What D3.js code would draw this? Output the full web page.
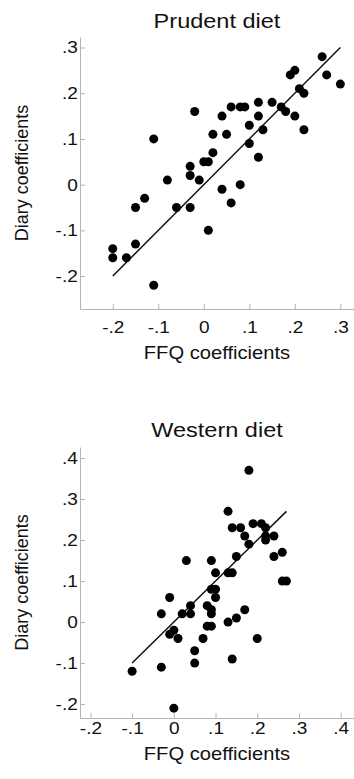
<!DOCTYPE html>
<html>
<head>
<meta charset="utf-8">
<script src="https://cdn.jsdelivr.net/npm/d3@7"></script>
<style>
  html, body { margin: 0; padding: 0; background: #fff; }
  svg { display: block; font-family: "Liberation Sans", Arial, sans-serif; }
</style>
</head>
<body>
<div id="chart"></div>
<script>
// Prudent diet panel
const prudentFFQ   = [-0.20, -0.20, -0.17, -0.15, -0.15, -0.13, -0.11, -0.11, -0.08, -0.06, -0.03, -0.03, -0.03, -0.02, -0.01, 0.00, 0.01, 0.01, 0.02, 0.02, 0.04, 0.04, 0.05, 0.06, 0.06, 0.08, 0.09, 0.08, 0.10, 0.10, 0.12, 0.12, 0.12, 0.13, 0.15, 0.17, 0.18, 0.19, 0.20, 0.20, 0.21, 0.22, 0.22, 0.26, 0.27, 0.30];
const prudentDiary = [-0.14, -0.16, -0.16, -0.13, -0.05, -0.03, 0.10, -0.22, 0.01, -0.05, 0.04, 0.02, -0.05, 0.16, 0.01, 0.05, 0.05, -0.10, 0.07, 0.11, 0.15, -0.01, 0.11, 0.17, -0.04, 0.17, 0.17, 0.00, 0.13, 0.09, 0.18, 0.15, 0.06, 0.12, 0.18, 0.17, 0.16, 0.24, 0.25, 0.15, 0.21, 0.20, 0.12, 0.28, 0.24, 0.22];
const prudentFitX  = [-0.20, 0.30];
const prudentFitY  = [-0.20, 0.30];
const prudentTicks = [-0.2, -0.1, 0, 0.1, 0.2, 0.3];

// Western diet panel
const westernFFQ   = [-0.10, -0.03, -0.03, -0.01, -0.01, 0.00, 0.01, 0.02, 0.03, 0.04, 0.04, 0.05, 0.05, 0.07, 0.08, 0.08, 0.09, 0.09, 0.09, 0.09, 0.09, 0.10, 0.10, 0.10, 0.13, 0.13, 0.13, 0.14, 0.14, 0.14, 0.15, 0.15, 0.16, 0.17, 0.17, 0.18, 0.18, 0.19, 0.20, 0.21, 0.22, 0.22, 0.22, 0.24, 0.24, 0.26, 0.26, 0.27, 0.00];
const westernDiary = [-0.12, -0.11, 0.02, 0.06, -0.03, -0.02, -0.04, 0.02, 0.15, 0.02, 0.04, -0.07, -0.10, -0.04, 0.04, -0.01, 0.03, 0.02, -0.01, 0.15, 0.08, 0.08, 0.12, 0.06, 0.00, 0.12, 0.27, 0.12, 0.23, -0.09, 0.16, 0.01, 0.23, 0.21, 0.03, 0.19, 0.37, 0.24, -0.04, 0.24, 0.23, 0.21, 0.20, 0.21, 0.16, 0.17, 0.10, 0.10, -0.21];
const westernFitX  = [-0.10, 0.27];
const westernFitY  = [-0.10, 0.27];
const westernTicks = [-0.2, -0.1, 0, 0.1, 0.2, 0.3, 0.4];

const titles = ["Prudent diet", "Western diet"];
const xTitle = "FFQ coefficients";
const yTitle = "Diary coefficients";

const W = 354, H = 779;
const stretch = 1.12; // text in the picture is slightly wide

const svg = d3.select("#chart").append("svg")
  .attr("width", W).attr("height", H);

// "-.2", "0", ".3" style labels, with a plain hyphen
const fmt = v => {
  if (Math.abs(v) < 1e-9) return "0";
  const s = Math.abs(v).toFixed(1).replace("0.", ".");
  return v < 0 ? "-" + s : s;
};

function panel(opts) {
  const x = d3.scaleLinear().domain(opts.xDom).range([80, 354]);
  const y = d3.scaleLinear().domain(opts.yDom).range([opts.bottom, opts.top]);
  const g = svg.append("g");

  // title
  g.append("text")
    .attr("transform", `translate(217,${opts.titleY}) scale(${stretch},1)`)
    .attr("text-anchor", "middle")
    .attr("font-size", 21)
    .attr("fill", "#111")
    .text(opts.title);

  // x axis
  const gx = g.append("g")
    .attr("transform", `translate(0,${opts.bottom})`)
    .call(d3.axisBottom(x).tickValues(opts.ticks).tickFormat(fmt)
      .tickSizeInner(-5).tickSizeOuter(0).tickPadding(opts.xPad));
  // y axis
  const gy = g.append("g")
    .attr("transform", "translate(80,0)")
    .call(d3.axisLeft(y).tickValues(opts.ticks).tickFormat(fmt)
      .tickSizeInner(-5).tickSizeOuter(0).tickPadding(2));

  [gx, gy].forEach(a => {
    a.select(".domain").attr("stroke", "#b4b4b4");
    a.selectAll(".tick line").attr("stroke", "#b4b4b4");
    a.selectAll(".tick text")
      .attr("font-size", 17)
      .attr("font-family", "'Liberation Sans', Arial, sans-serif")
      .attr("fill", "#111")
      .attr("transform", `scale(${stretch},1)`);
  });

  // axis titles
  g.append("text")
    .attr("transform", `translate(217,${opts.xTitleY}) scale(${stretch},1)`)
    .attr("text-anchor", "middle")
    .attr("font-size", 18)
    .attr("fill", "#111")
    .text(xTitle);

  g.append("text")
    .attr("transform", `translate(28,${(opts.top + opts.bottom) / 2}) rotate(-90)`)
    .attr("text-anchor", "middle")
    .attr("font-size", 18)
    .attr("fill", "#111")
    .text(yTitle);

  // fitted line
  g.append("line")
    .attr("x1", x(opts.fitX[0])).attr("y1", y(opts.fitY[0]))
    .attr("x2", x(opts.fitX[1])).attr("y2", y(opts.fitY[1]))
    .attr("stroke", "#111").attr("stroke-width", 1.5);

  // points
  g.selectAll("circle.pt")
    .data(opts.xs.map((v, i) => [v, opts.ys[i]]))
    .enter().append("circle")
    .attr("class", "pt")
    .attr("cx", d => x(d[0]))
    .attr("cy", d => y(d[1]))
    .attr("r", 4.5)
    .attr("fill", "#000");
}

panel({
  title: titles[0], titleY: 28,
  xDom: [-0.272, 0.33], yDom: [-0.272, 0.323],
  top: 37, bottom: 309, xPad: 12, xTitleY: 359,
  ticks: prudentTicks,
  xs: prudentFFQ, ys: prudentDiary, fitX: prudentFitX, fitY: prudentFitY
});

panel({
  title: titles[1], titleY: 437,
  xDom: [-0.225, 0.432], yDom: [-0.234, 0.427],
  top: 447, bottom: 718, xPad: 4, xTitleY: 760,
  ticks: westernTicks,
  xs: westernFFQ, ys: westernDiary, fitX: westernFitX, fitY: westernFitY
});
</script>
</body>
</html>
